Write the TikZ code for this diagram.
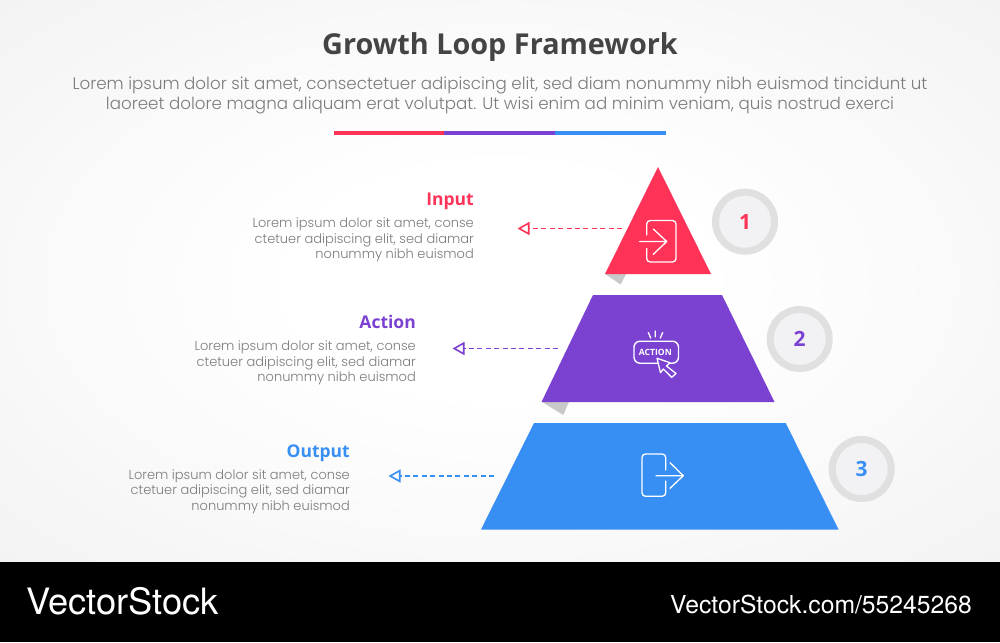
\documentclass[tikz,border=0pt]{standalone}
\usepackage{fontspec}
\setmainfont{Poppins}[UprightFont=* Light,BoldFont=* SemiBold]
\newfontfamily\headfont{Open Sans}[BoldFont=* Bold]
\newfontfamily\brandfont{TeX Gyre Heros}
\usetikzlibrary{arrows.meta}
\definecolor{cred}{HTML}{FF3358}
\definecolor{cpurple}{HTML}{7B42D2}
\definecolor{cblue}{HTML}{388FF3}
\definecolor{bodygray}{HTML}{7C7C7C}
\definecolor{titlegray}{HTML}{444444}
\definecolor{ringgray}{HTML}{E0E0E0}
\definecolor{ringfill}{HTML}{F2F2F4}
\definecolor{foldgray}{HTML}{C9C9C9}
\definecolor{bga}{HTML}{FFFFFF}
\definecolor{bgb}{HTML}{FAFAFA}
\definecolor{bgc}{HTML}{F4F4F4}
\definecolor{bgd}{HTML}{EEEEEE}
\pgfdeclareradialshading{pagebg}{\pgfpoint{0bp}{0bp}}{color(0bp)=(bga);color(10bp)=(bga);color(22bp)=(bgb);color(33bp)=(bgc);color(50bp)=(bgd);color(100bp)=(bgd)}
\tikzset{
  x=1pt,y=-1pt,
  heading/.style={anchor=base east,inner sep=0pt,font=\headfont\bfseries\fontsize{17.5}{20}\selectfont},
  bodytext/.style={anchor=east,inner sep=0pt,align=right,text=bodygray,font=\fontsize{13}{15.6}\selectfont},
  leader/.style={dashed,dash pattern=on 5pt off 3.4pt,line width=1.6pt,-{Triangle[open,length=12pt,width=13pt,line width=1.6pt,sep=3.5pt]}},
  ring/.style={circle,draw=ringgray,line width=7pt,fill=ringfill,minimum size=59pt,inner sep=0pt,font=\headfont\bfseries\fontsize{21}{22}\selectfont},
  iconline/.style={draw=white,line width=1.3pt,line cap=round,line join=round},
  fold/.style={fill=foldgray},
}
\begin{document}
\begin{tikzpicture}
\useasboundingbox (0,0) rectangle (1000,642);
\shade[shading=pagebg] (0,0) rectangle (1000,562);
\fill[black] (0,562) rectangle (1000,642);

\node[inner sep=0pt,text=titlegray,font=\headfont\bfseries\fontsize{28.8}{32}\selectfont] (title) at (500,47) {Growth Loop Framework};
\node[inner sep=0pt,align=center,text=bodygray,font=\fontsize{16.7}{20}\selectfont] (sub) at (500,95) {Lorem ipsum dolor sit amet, consectetuer adipiscing elit, sed diam nonummy nibh euismod tincidunt ut\\laoreet dolore magna aliquam erat volutpat. Ut wisi enim ad minim veniam, quis nostrud exerci};

\fill[cred] (334,131) rectangle (444,134.5);
\fill[cpurple] (444,131) rectangle (555,134.5);
\fill[cblue] (555,131) rectangle (666,134.5);

% folds
\fill[fold] (605,274) -- (620.7,284.5) -- (626,274) -- cycle;
\fill[fold] (541.7,401.7) -- (563.3,415) -- (569,401.7) -- cycle;

% pyramid
\fill[cred] (658,167) -- (711,274) -- (605,274) -- cycle;
\fill[cpurple] (593,295) -- (722,295) -- (774.5,402) -- (541.5,402) -- cycle;
\fill[cblue] (534,423) -- (785.7,423) -- (838.5,529.5) -- (481,529.5) -- cycle;

% rings
\node[ring,text=cred] (n1) at (745,221.7) {1};
\node[ring,text=cpurple] (n2) at (799.7,339) {2};
\node[ring,text=cblue] (n3) at (861.7,469) {3};

% texts
\node[heading,text=cred] (h1) at (474,205.5) {Input};
\node[bodytext] (b1) at (474,240) {Lorem ipsum dolor sit amet, conse\\ctetuer adipiscing elit, sed diamar\\nonummy nibh euismod};
\node[heading,text=cpurple] (h2) at (416,328) {Action};
\node[bodytext] (b2) at (416,363) {Lorem ipsum dolor sit amet, conse\\ctetuer adipiscing elit, sed diamar\\nonummy nibh euismod};
\node[heading,text=cblue] (h3) at (350,457.5) {Output};
\node[bodytext] (b3) at (350,491.5) {Lorem ipsum dolor sit amet, conse\\ctetuer adipiscing elit, sed diamar\\nonummy nibh euismod};

% leaders
\coordinate (s1) at (622,228.5); \coordinate (e1) at (514,228.5);
\coordinate (s2) at (558,348.5); \coordinate (e2) at (449,348.5);
\coordinate (s3) at (494,476);   \coordinate (e3) at (385,476);
\draw[leader,draw=cred] (s1) -- (e1);
\draw[leader,draw=cpurple] (s2) -- (e2);
\draw[leader,draw=cblue] (s3) -- (e3);

% icon 1
\draw[iconline,rounded corners=3.5pt] (646.7,235) -- (646.7,220.5) -- (676,220.5) -- (676,262) -- (646.7,262) -- (646.7,248.5);
\draw[iconline] (639.5,241.5) -- (666.7,241.5) (653.3,229) -- (666.7,241.5) -- (653.3,254.3);

% icon 2
\draw[iconline,line width=1.4pt,rounded corners=6pt] (634,341.2) rectangle (678.5,363.2);
\node[inner sep=0pt,text=white,font=\headfont\bfseries\fontsize{8.6}{10}\selectfont] (act) at (655.3,352.3) {ACTION};
\draw[iconline] (648.3,332.5) -- (650.7,338) (655.3,331) -- (655.3,337) (662.7,332.5) -- (660.3,338);
\draw[iconline,fill=cpurple] (657,358.3) -- (670,362.7) -- (666.5,366) -- (676,373.5) -- (671.7,377.3) -- (663.3,369) -- (660.5,372.7) -- cycle;

% icon 3
\draw[iconline,rounded corners=3.5pt] (665.7,470) -- (665.7,454) -- (642,454) -- (642,496.3) -- (665.7,496.3) -- (665.7,481);
\draw[iconline] (656,475.7) -- (683.3,475.7) (670,462.7) -- (683.3,475.7) -- (670,488.3);

% brand
\node[anchor=west,inner sep=0pt,text=white,font=\brandfont\fontsize{36.3}{38}\selectfont] (bl) at (26,601) {VectorStock};
\node[anchor=east,inner sep=0pt,text=white,font=\brandfont\fontsize{24.7}{26}\selectfont] (br) at (972,604.5) {VectorStock.com/55245268};
\end{tikzpicture}
\end{document}
